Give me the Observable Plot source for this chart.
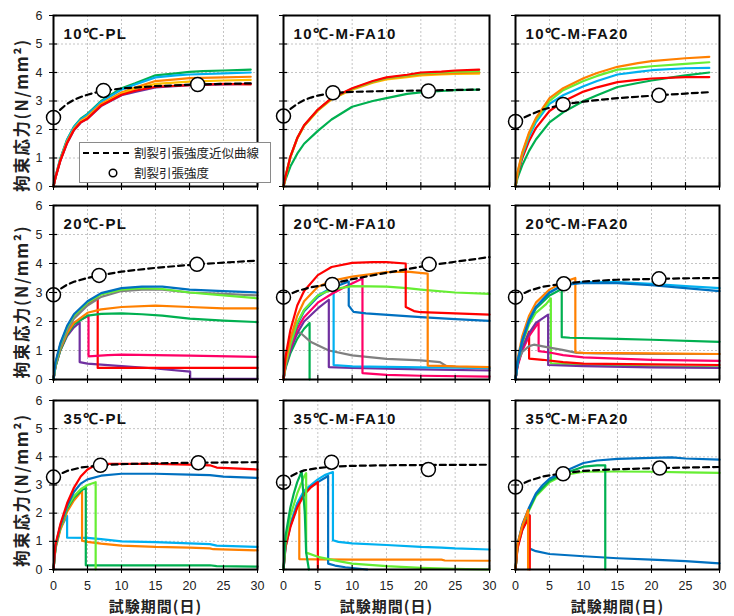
<!DOCTYPE html>
<html><head><meta charset="utf-8">
<script src="https://cdn.jsdelivr.net/npm/d3@7"></script>
<script src="https://cdn.jsdelivr.net/npm/@observablehq/plot@0.6"></script>
<style>
body{margin:0;background:#fff;}
#wrap{position:relative;width:734px;height:616px;overflow:hidden;background:#fff;}
#wrap svg.plotpanel{position:absolute;overflow:visible;}
#legend{position:absolute;left:79px;top:142px;width:190px;height:39px;background:#fff;border:1px solid #8a8a8a;font-family:"Noto Sans CJK JP",sans-serif;font-size:12.5px;color:#222;}
#legend .row{position:absolute;left:54px;line-height:14px;white-space:nowrap;}
#legend svg{position:absolute;left:0;top:0;}
</style></head><body><div id="wrap"></div><script>
// ---------- categories / ticks ----------
const panelTitles = ["10℃-PL","10℃-M-FA10","10℃-M-FA20","20℃-PL","20℃-M-FA10","20℃-M-FA20","35℃-PL","35℃-M-FA10","35℃-M-FA20"];
const xTicks = [0,5,10,15,20,25,30];
const yTicks = [0,1,2,3,4,5,6];
const xLabel = "試験期間(日)";
const yLabel = "拘束応力(N/mm²)";
const legendLabels = ["割裂引張強度近似曲線","割裂引張強度"];
const seriesNames = ["red","orange","yellow","dkgreen","lgreen","cyan","blue","blue2","purple","pink","gray"];

// ---------- 10℃-PL ----------
const s10PL_dkgreen = [[0,0],[0.3,0.35],[1,0.98],[2,1.65],[3,2.1],[4,2.38],[5,2.55],[7,3.0],[10,3.45],[12,3.62],[15,3.9],[18,3.97],[20,4.02],[22,4.05],[25,4.07],[27,4.08],[29,4.1]];
const s10PL_cyan = [[0,0],[0.3,0.35],[1,0.97],[2,1.63],[3,2.08],[4,2.35],[5,2.52],[7,2.97],[10,3.4],[12,3.58],[15,3.83],[18,3.9],[20,3.93],[25,3.97],[29,4.0]];
const s10PL_orange = [[0,0],[0.3,0.33],[1,0.93],[2,1.58],[3,2.02],[4,2.3],[5,2.45],[7,2.9],[10,3.3],[12,3.47],[15,3.7],[18,3.76],[20,3.8],[25,3.83],[29,3.85]];
const s10PL_yellow = [[0,0],[0.3,0.33],[1,0.92],[2,1.56],[3,2.0],[4,2.28],[5,2.42],[7,2.86],[10,3.26],[12,3.42],[15,3.6],[20,3.68],[25,3.72],[29,3.74]];
const s10PL_purple = [[0,0],[0.3,0.32],[1,0.9],[2,1.52],[3,1.97],[4,2.24],[5,2.38],[7,2.82],[10,3.2],[12,3.32],[15,3.48],[20,3.56],[25,3.58],[29,3.6]];
const s10PL_red = [[0,0],[0.3,0.32],[1,0.9],[2,1.53],[3,1.98],[4,2.25],[5,2.38],[7,2.84],[10,3.22],[12,3.36],[15,3.5],[20,3.56],[25,3.6],[29,3.58]];
const fit10PL = [[0,2.42],[1,2.7],[2,2.9],[3,3.04],[4,3.14],[5,3.22],[7,3.35],[10,3.44],[15,3.52],[21,3.58],[25,3.6],[29,3.62]];
const pts10PL = [[0,2.42],[7.35,3.37],[21.2,3.58]];

// ---------- 10℃-M-FA10 ----------
const s10F10_dkgreen = [[0,0],[0.3,0.25],[1,0.7],[2,1.15],[3,1.5],[5,1.95],[7,2.35],[10,2.8],[13,3.0],[15,3.1],[18,3.25],[20,3.3],[23,3.35],[25,3.38],[28.5,3.4]];
const s10F10_yellow = [[0,0],[0.3,0.35],[1,1.02],[2,1.68],[3,2.12],[5,2.66],[7,3.06],[10,3.4],[13,3.64],[15,3.76],[18,3.84],[20,3.9],[23,3.93],[25,3.95],[28.5,3.96]];
const s10F10_orange = [[0,0],[0.3,0.35],[1,1.03],[2,1.69],[3,2.13],[5,2.68],[7,3.08],[10,3.42],[13,3.66],[15,3.79],[18,3.87],[20,3.93],[23,3.96],[25,3.98],[28.5,4.0]];
const s10F10_lgreen = [[0,0],[0.3,0.36],[1,1.04],[2,1.7],[3,2.14],[5,2.69],[7,3.09],[10,3.43],[13,3.68],[15,3.81],[18,3.9],[20,3.97],[23,4.0],[25,4.03],[28.5,4.05]];
const s10F10_red = [[0,0],[0.3,0.36],[1,1.05],[2,1.7],[3,2.15],[5,2.7],[7,3.1],[10,3.45],[13,3.7],[15,3.83],[18,3.92],[20,4.0],[23,4.03],[25,4.07],[28.5,4.1]];
const fit10F10 = [[0,2.47],[1,2.72],[2,2.9],[3,3.03],[4,3.12],[5,3.19],[7,3.28],[10,3.32],[15,3.35],[21,3.37],[28.5,3.4]];
const pts10F10 = [[0,2.47],[7.2,3.29],[21.1,3.35]];

// ---------- 10℃-M-FA20 ----------
const s10F20_dkgreen = [[0,0],[0.3,0.3],[1,0.75],[2,1.25],[3,1.65],[5,2.25],[7,2.6],[10,3.0],[12,3.2],[15,3.49],[18,3.63],[20,3.72],[23,3.83],[25,3.9],[28.5,4.0]];
const s10F20_red = [[0,0],[0.3,0.4],[1,1.0],[2,1.6],[3,2.05],[5,2.65],[7,2.98],[10,3.33],[12,3.48],[15,3.66],[18,3.74],[20,3.79],[25,3.84],[28.5,3.84]];
const s10F20_cyan = [[0,0],[0.3,0.45],[1,1.1],[2,1.75],[3,2.25],[5,2.9],[7,3.2],[10,3.52],[12,3.7],[15,3.93],[18,4.02],[20,4.08],[25,4.15],[28.5,4.16]];
const s10F20_lgreen = [[0,0],[0.3,0.48],[1,1.15],[2,1.85],[3,2.35],[5,3.0],[7,3.38],[10,3.7],[12,3.88],[15,4.1],[18,4.17],[20,4.22],[25,4.3],[28.5,4.36]];
const s10F20_orange = [[0,0],[0.3,0.5],[1,1.2],[2,1.9],[3,2.4],[5,3.1],[7,3.45],[10,3.8],[12,3.98],[15,4.2],[18,4.33],[20,4.4],[25,4.5],[28.5,4.55]];
const fit10F20 = [[0,2.28],[2,2.5],[4,2.7],[7,2.88],[10,2.98],[12,3.03],[15,3.1],[21,3.2],[25,3.26],[28.5,3.31]];
const pts10F20 = [[0,2.28],[7.0,2.88],[21.1,3.2]];

// ---------- 20℃-PL ----------
const s20PL_purple = [[0,0],[0.3,0.45],[1,1.0],[2,1.5],[3,1.8],[3.85,1.97],[3.85,0.6],[5,0.55],[10,0.46],[15,0.38],[20.1,0.27],[20.1,0.03],[30,0.02]];
const s20PL_red = [[0,0],[0.3,0.55],[1,1.2],[2,1.8],[3,2.2],[5,2.6],[6.5,2.82],[6.5,0.4],[10,0.4],[20,0.4],[30,0.4]];
const s20PL_pink = [[0,0],[0.3,0.5],[1,1.05],[2,1.6],[3,1.95],[5.15,2.2],[5.15,0.8],[8,0.84],[10,0.86],[20,0.82],[30,0.78]];
const s20PL_dkgreen = [[0,0],[0.3,0.45],[1,1.0],[2,1.55],[3,1.9],[5,2.2],[7,2.26],[10,2.28],[13,2.25],[16,2.2],[20,2.1],[25,2.03],[30,1.98]];
const s20PL_orange = [[0,0],[0.3,0.5],[1,1.05],[2,1.6],[3,1.95],[5,2.3],[7,2.42],[10,2.5],[15,2.55],[20,2.5],[25,2.45],[30,2.45]];
const s20PL_gray = [[0,0],[0.3,0.5],[1,1.1],[2,1.7],[3,2.1],[5,2.55],[7,2.85],[10,3.05],[13,3.1],[16,3.1],[20,3.0],[25,2.95],[30,2.9]];
const s20PL_lgreen = [[0,0],[0.3,0.55],[1,1.2],[2,1.8],[3,2.2],[5,2.65],[7,2.93],[10,3.1],[13,3.15],[16,3.12],[20,3.0],[25,2.9],[30,2.8]];
const s20PL_blue = [[0,0],[0.3,0.6],[1,1.25],[2,1.85],[3,2.25],[5,2.7],[7,2.98],[10,3.15],[13,3.2],[16,3.2],[20,3.1],[25,3.05],[30,3.0]];
const fit20PL = [[0,2.92],[1,3.12],[2,3.27],[3,3.37],[5,3.5],[7,3.6],[10,3.72],[15,3.85],[21,3.97],[25,4.03],[30,4.1]];
const pts20PL = [[0,2.92],[6.7,3.59],[21.1,3.97]];

// ---------- 20℃-M-FA10 ----------
const s20F10_dkgreen = [[0,0],[0.3,0.4],[1,0.9],[2,1.4],[3,1.75],[3.8,1.95],[3.8,0]];
const s20F10_gray = [[0,0],[0.3,0.7],[1,1.2],[2,1.58],[2.4,1.62],[4,1.29],[6.6,1.0],[10,0.83],[15,0.71],[20,0.66],[22.8,0.6],[23.8,0.45],[30,0.37]];
const s20F10_purple = [[0,0],[0.3,0.45],[1,1.0],[2,1.6],[3,2.0],[5,2.45],[6.6,2.75],[6.6,0.43],[10,0.4],[20,0.35],[30,0.31]];
const s20F10_cyan = [[0,0],[0.3,0.55],[1,1.25],[2,1.95],[3,2.4],[5,2.9],[7.3,3.2],[7.3,0.5],[10,0.45],[20,0.42],[30,0.4]];
const s20F10_pink = [[0,0],[0.3,0.5],[1,1.1],[2,1.75],[3,2.15],[5,2.65],[7,2.95],[9,3.2],[11.5,3.48],[11.5,0.22],[15,0.16],[20,0.13],[30,0.1]];
const s20F10_blue = [[0,0],[0.3,0.5],[1,1.2],[2,1.9],[3,2.35],[5,2.85],[7,3.15],[9.5,3.38],[9.5,2.55],[10.2,2.33],[12,2.28],[20,2.15],[25,2.08],[30,2.02]];
const s20F10_lgreen = [[0,0],[0.3,0.5],[1,1.2],[2,1.95],[3,2.4],[5,2.9],[7,3.1],[10,3.22],[15,3.2],[18,3.15],[20,3.1],[25,3.0],[30,2.95]];
const s20F10_orange = [[0,0],[0.3,0.6],[1,1.4],[2,2.2],[3,2.7],[5,3.2],[7,3.4],[10,3.55],[15,3.7],[18,3.72],[21,3.65],[21,0.48],[23,0.47],[25,0.45],[30,0.43]];
const s20F10_red = [[0,0],[0.3,0.8],[1,1.7],[2,2.55],[3,3.05],[5,3.6],[7,3.88],[10,4.02],[13,4.05],[15,4.05],[17.8,4.0],[17.8,2.5],[19,2.36],[20,2.32],[25,2.28],[30,2.24]];
const fit20F10 = [[0,2.84],[2,3.05],[4,3.18],[7,3.3],[10,3.46],[15,3.68],[21,3.93],[25,4.06],[30,4.22]];
const pts20F10 = [[0,2.84],[7.1,3.28],[21.2,3.97]];

// ---------- 20℃-M-FA20 ----------
const s20F20_lgreen = [[0,0],[0.3,0.55],[1,1.25],[2,1.9],[3,2.3],[4.5,2.6],[5.2,2.8],[5.2,0.56],[10,0.5],[20,0.45],[30,0.42]];
const s20F20_red = [[0,0],[0.3,0.5],[1,1.05],[2,1.65],[2,0.72],[4,0.68],[7,0.6],[10,0.55],[20,0.52],[30,0.5]];
const s20F20_pink = [[0,0],[0.3,0.45],[1,1.0],[2,1.5],[3.4,1.97],[3.4,0.98],[5,0.93],[7,0.84],[10,0.76],[20,0.68],[30,0.64]];
const s20F20_purple = [[0,0],[0.3,0.5],[1,1.1],[2,1.6],[3,1.95],[4.8,2.24],[4.8,0.5],[10,0.46],[20,0.42],[30,0.4]];
const s20F20_gray = [[0,0],[0.3,0.6],[1,0.95],[2,1.15],[2.7,1.2],[5,1.1],[6.9,1.02],[9,0.92],[12,0.9],[20,0.88],[30,0.88]];
const s20F20_orange = [[0,0],[0.3,0.7],[1,1.5],[2,2.2],[3,2.65],[5,3.1],[7,3.35],[8.8,3.5],[8.8,0.94],[10,0.92],[20,0.9],[30,0.88]];
const s20F20_dkgreen = [[0,0],[0.3,0.55],[1,1.3],[2,2.0],[3,2.45],[5,2.9],[6.8,3.12],[6.8,1.46],[8,1.44],[15,1.4],[20,1.37],[30,1.3]];
const s20F20_cyan = [[0,0],[0.3,0.6],[1,1.35],[2,2.05],[3,2.5],[5,3.0],[7,3.27],[10,3.36],[15,3.36],[20,3.3],[25,3.22],[30,3.15]];
const s20F20_blue = [[0,0],[0.3,0.6],[1,1.35],[2,2.05],[3,2.5],[5,3.0],[7,3.25],[10,3.33],[15,3.32],[20,3.25],[25,3.15],[30,3.05]];
const fit20F20 = [[0,2.84],[2,3.06],[4,3.2],[7,3.3],[10,3.38],[15,3.44],[21,3.47],[25,3.49],[30,3.5]];
const pts20F20 = [[0,2.84],[7.1,3.3],[21.1,3.47]];

// ---------- 35℃-PL ----------
const s35PL_cyan = [[0,0],[0.3,0.8],[1,1.45],[2,1.9],[2,1.13],[5,1.12],[7,1.08],[10,1.0],[15,0.97],[20,0.93],[23,0.9],[24,0.85],[30,0.8]];
const s35PL_orange = [[0,0],[0.3,0.75],[1,1.4],[2,2.05],[3,2.45],[4.2,2.8],[4.2,1.02],[5,0.98],[7,0.92],[10,0.85],[15,0.8],[20,0.78],[23,0.75],[23.5,0.72],[30,0.68]];
const s35PL_dkgreen = [[0,0],[0.3,0.8],[1,1.5],[2,2.15],[3,2.55],[4,2.78],[4.75,2.92],[4.75,0.15],[10,0.15],[20,0.15],[23,0.15],[24,0.12],[30,0.1]];
const s35PL_lgreen = [[0,0],[0.3,0.8],[1,1.5],[2,2.2],[3,2.6],[4,2.85],[5,3.0],[6.2,3.1],[6.2,0]];
const s35PL_blue = [[0,0],[0.3,0.85],[1,1.55],[2,2.25],[3,2.75],[4,3.05],[5,3.2],[7,3.33],[10,3.4],[15,3.4],[20,3.37],[23,3.35],[25,3.3],[30,3.25]];
const s35PL_red = [[0,0],[0.3,0.9],[1,1.6],[2,2.35],[3,2.9],[4,3.3],[5,3.55],[6,3.68],[8,3.75],[10,3.75],[15,3.75],[20,3.72],[23,3.7],[24,3.62],[30,3.55]];
const fit35PL = [[0,3.28],[2,3.5],[4,3.62],[7,3.7],[10,3.74],[15,3.77],[21,3.79],[25,3.8],[30,3.81]];
const pts35PL = [[0,3.28],[6.9,3.7],[21.3,3.79]];

// ---------- 35℃-M-FA10 ----------
const s35F10_orange = [[0,0],[0.3,0.9],[1,1.6],[2,2.35],[2.3,2.45],[2.3,0.37],[5,0.36],[10,0.35],[20,0.35],[23,0.35],[23.5,0.32],[30,0.31]];
const s35F10_cyan = [[0,0],[0.3,0.9],[1,1.6],[2,2.35],[3,2.8],[5,3.2],[6,3.35],[7.2,3.46],[7.2,1.04],[8,0.98],[10,0.93],[15,0.87],[20,0.8],[23,0.78],[25,0.75],[30,0.71]];
const s35F10_blue = [[0,0],[0.3,0.8],[1,1.55],[2,2.25],[3,2.7],[4,2.95],[5,3.1],[6,3.25],[6.5,3.32],[6.5,0.21],[7.5,0.14],[9,0.08],[12.2,0]];
const s35F10_red = [[0,0],[0.3,0.8],[1,1.5],[2,2.2],[3,2.65],[4,2.92],[5,3.1],[5,0]];
const s35F10_lgreen = [[0,0],[0.3,1.0],[1,1.9],[2,2.7],[3,3.3],[3.3,3.42],[3.3,0.6],[5,0.45],[8,0.3],[10,0.21],[15,0.12],[20,0.06],[25,0.02],[30,0]];
const s35F10_dkgreen = [[0,0],[0.3,1.2],[1,2.2],[1.5,2.7],[2,3.1],[2.65,3.48],[3.1,2.0],[3.3,0.6],[3.7,0]];
const fit35F10 = [[0,3.1],[1,3.3],[2,3.43],[3,3.52],[5,3.6],[7,3.65],[10,3.68],[15,3.7],[21,3.71],[30,3.72]];
const pts35F10 = [[0,3.1],[7.0,3.81],[21.1,3.55]];

// ---------- 35℃-M-FA20 ----------
const s35F20_blue2 = [[0,0],[0.3,0.8],[1,1.4],[2,1.95],[2,0.75],[3,0.65],[5,0.55],[10,0.47],[15,0.4],[20,0.35],[25,0.3],[30,0.22]];
const s35F20_lgreen = [[0,0],[0.3,0.85],[1,1.5],[2,2.1],[3,2.6],[5,3.1],[7,3.35],[10,3.47],[15,3.48],[20,3.47],[25,3.45],[30,3.43]];
const s35F20_dkgreen = [[0,0],[0.3,0.85],[1,1.55],[2,2.15],[3,2.65],[5,3.15],[7,3.4],[10,3.65],[12,3.7],[13.2,3.7],[13.2,0]];
const s35F20_blue = [[0,0],[0.3,0.9],[1,1.6],[2,2.2],[3,2.7],[4,3.0],[5,3.22],[7,3.46],[10,3.78],[12,3.87],[15,3.93],[20,3.96],[23,3.98],[25,3.94],[30,3.9]];
const s35F20_red = [[0,0],[0.3,0.75],[1,1.4],[2.1,1.92],[2.1,0]];
const s35F20_orange = [[0,0],[0.3,0.9],[1,1.55],[1.85,2.12],[1.85,0]];
const fit35F20 = [[0,2.93],[2,3.15],[4,3.3],[7,3.42],[10,3.5],[15,3.56],[21,3.6],[25,3.62],[30,3.64]];
const pts35F20 = [[0,2.93],[7.0,3.4],[21.2,3.6]];

// ---------- assemble ----------
const panelSeries = [
  {dkgreen:s10PL_dkgreen, cyan:s10PL_cyan, orange:s10PL_orange, yellow:s10PL_yellow, purple:s10PL_purple, red:s10PL_red},
  {dkgreen:s10F10_dkgreen, yellow:s10F10_yellow, orange:s10F10_orange, lgreen:s10F10_lgreen, red:s10F10_red},
  {dkgreen:s10F20_dkgreen, red:s10F20_red, cyan:s10F20_cyan, lgreen:s10F20_lgreen, orange:s10F20_orange},
  {purple:s20PL_purple, red:s20PL_red, pink:s20PL_pink, dkgreen:s20PL_dkgreen, orange:s20PL_orange, gray:s20PL_gray, lgreen:s20PL_lgreen, blue:s20PL_blue},
  {dkgreen:s20F10_dkgreen, gray:s20F10_gray, purple:s20F10_purple, cyan:s20F10_cyan, pink:s20F10_pink, blue:s20F10_blue, lgreen:s20F10_lgreen, orange:s20F10_orange, red:s20F10_red},
  {lgreen:s20F20_lgreen, red:s20F20_red, pink:s20F20_pink, purple:s20F20_purple, gray:s20F20_gray, orange:s20F20_orange, dkgreen:s20F20_dkgreen, cyan:s20F20_cyan, blue:s20F20_blue},
  {cyan:s35PL_cyan, orange:s35PL_orange, dkgreen:s35PL_dkgreen, lgreen:s35PL_lgreen, blue:s35PL_blue, red:s35PL_red},
  {orange:s35F10_orange, cyan:s35F10_cyan, blue:s35F10_blue, red:s35F10_red, lgreen:s35F10_lgreen, dkgreen:s35F10_dkgreen},
  {blue2:s35F20_blue2, lgreen:s35F20_lgreen, dkgreen:s35F20_dkgreen, blue:s35F20_blue, red:s35F20_red, orange:s35F20_orange}
];
const panelFits = [fit10PL, fit10F10, fit10F20, fit20PL, fit20F10, fit20F20, fit35PL, fit35F10, fit35F20];
const panelPts = [pts10PL, pts10F10, pts10F20, pts20PL, pts20F10, pts20F20, pts35PL, pts35F10, pts35F20];

// ---------- layout / style (not data) ----------
const seriesColors = ["#ff0000","#ff8000","#ffc000","#00b050","#66ee33","#00b0f0","#0070c0","#0070c0","#7030a0","#ff0066","#808080"];
const colLeft = [53, 283, 515], colW = [204, 206, 204];
const rowTop = [15, 205, 400], rowH = [171, 174, 169];
const yLabelShift = [14, 9, 5];
const numFont = "'Liberation Sans', Arial, sans-serif";
const jpFont = "'Noto Sans CJK JP', sans-serif";

const wrap = document.getElementById("wrap");

panelTitles.forEach((title, i) => {
  const r = Math.floor(i / 3), c = i % 3;
  const ml = c === 0 ? 53 : 14, mr = 12, mt = 10, mb = r === 2 ? 46 : 10;
  const rows = [];
  for (const [name, pts] of Object.entries(panelSeries[i])) for (const [d, v] of pts) rows.push({s: name, d, v});
  const fit = panelFits[i].map(([d, v]) => ({d, v}));
  const pts = panelPts[i].map(([d, v]) => ({d, v}));
  const marks = [
    Plot.gridX(xTicks.slice(1, -1), {stroke: "#c4c4c4", strokeOpacity: 1, strokeDasharray: "2,2"}),
    Plot.gridY(yTicks.slice(1, -1), {stroke: "#c4c4c4", strokeOpacity: 1, strokeDasharray: "2,2"}),
    Plot.line(rows, {x: "d", y: "v", z: "s", stroke: "s", strokeWidth: 2.2}),
    Plot.line(fit, {x: "d", y: "v", stroke: "black", strokeWidth: 2.2, strokeDasharray: "6,4"}),
    Plot.dot(pts, {x: "d", y: "v", r: 7, fill: "white", stroke: "black", strokeWidth: 1.5}),
    Plot.text([title], {frameAnchor: "top-left", dx: 10, dy: 19, textAnchor: "start", lineAnchor: "middle", fontSize: 15, fontWeight: "bold", fill: "#111", fontFamily: numFont}),
    Plot.ruleY(yTicks, {x1: 0, x2: 0.6, stroke: "black", strokeWidth: 1.2}),
    Plot.ruleX(xTicks, {y1: 0, y2: 0.14, stroke: "black", strokeWidth: 1.2}),
    Plot.axisX(xTicks, {anchor: "bottom", tickSize: 4, tickPadding: 8, label: null, stroke: "black",
      tickFormat: r === 2 ? (d => String(d)) : (() => ""), fontSize: 12.5, fill: "#222"}),
    Plot.axisY(yTicks, {anchor: "left", tickSize: 4, tickPadding: 7, label: null, stroke: "black",
      tickFormat: c === 0 ? (d => String(d)) : (() => ""), fontSize: 12.5, fill: "#222"}),
    Plot.frame({stroke: "black", strokeWidth: 2})
  ];
  if (c === 0) marks.push(Plot.text([yLabel], {frameAnchor: "left", dx: -31, dy: yLabelShift[r], rotate: -90, textAnchor: "middle", lineAnchor: "middle", fontSize: 16.5, fontWeight: "bold", fill: "#222", fontFamily: jpFont}));
  if (r === 2) marks.push(Plot.text([xLabel], {frameAnchor: "bottom", dy: 37.5, textAnchor: "middle", lineAnchor: "middle", fontSize: 15, fontWeight: "bold", fill: "#222", fontFamily: jpFont}));
  const svg = Plot.plot({
    width: ml + colW[c] + mr, height: mt + rowH[r] + mb,
    marginLeft: ml, marginRight: mr, marginTop: mt, marginBottom: mb,
    x: {domain: [0, 30]}, y: {domain: [0, 6]},
    color: {domain: seriesNames, range: seriesColors},
    style: {fontFamily: numFont, fontSize: "12.5px", color: "#222", background: "transparent", overflow: "visible"},
    marks
  });
  svg.classList.add("plotpanel");
  svg.style.left = (colLeft[c] - ml) + "px";
  svg.style.top = (rowTop[r] - mt) + "px";
  svg.style.maxWidth = "none";
  svg.querySelectorAll("text").forEach(t => {
    if (t.textContent === title) t.setAttribute("letter-spacing", "1.3");
    if (t.textContent === yLabel) t.setAttribute("letter-spacing", "1.6");
    if (t.textContent === xLabel) t.setAttribute("letter-spacing", "1");
  });
  wrap.appendChild(svg);
});

// legend (inside first panel)
const lg = document.createElement("div");
lg.id = "legend";
lg.innerHTML = `<svg width="60" height="40"><line x1="3" y1="10" x2="49" y2="10" stroke="black" stroke-width="2.2" stroke-dasharray="6,4"/><circle cx="33" cy="30" r="3.8" fill="white" stroke="black" stroke-width="1.5"/></svg>
<div class="row" style="top:3px">${legendLabels[0]}</div><div class="row" style="top:23px">${legendLabels[1]}</div>`;
wrap.appendChild(lg);
</script></body></html>
